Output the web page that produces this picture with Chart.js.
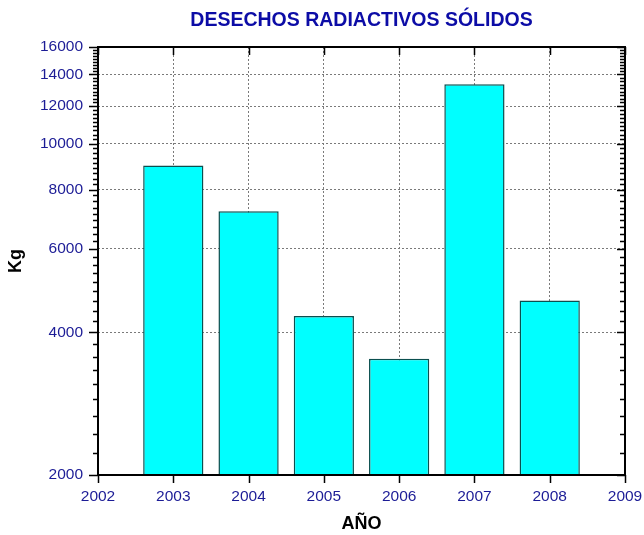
<!DOCTYPE html>
<html>
<head>
<meta charset="utf-8">
<script src="https://cdn.jsdelivr.net/npm/chart.js@4"></script>
<style>
  html, body { margin: 0; padding: 0; background: #fff; }
  #wrap { width: 644px; height: 535px; position: relative; }
</style>
</head>
<body>
<div id="wrap"><canvas id="c"></canvas></div>
<script>
const years = [2003, 2004, 2005, 2006, 2007, 2008];
const wasteKg = [9000, 7200, 4330, 3520, 13350, 4670];
const yTickValues = [2000, 4000, 6000, 8000, 10000, 12000, 14000, 16000];
const xTickValues = [2002, 2003, 2004, 2005, 2006, 2007, 2008, 2009];
const chartTitle = 'DESECHOS RADIACTIVOS SÓLIDOS';
const xTitle = 'AÑO';
const yTitle = 'Kg';

const FONT = "'Liberation Sans', Arial, sans-serif";
const TICK_COLOR = '#1c1c96';

const framePlugin = {
  id: 'frame',
  afterDraw(chart) {
    const {ctx, chartArea: a, scales: {x, y}} = chart;
    ctx.save();
    ctx.strokeStyle = '#000';
    ctx.lineWidth = 1.5;
    ctx.beginPath();
    xTickValues.forEach(v => {
      const px = Math.round(x.getPixelForValue(v)) + 0.5;
      ctx.moveTo(px, a.bottom); ctx.lineTo(px, a.bottom + 8);
      ctx.moveTo(px, a.top); ctx.lineTo(px, a.top + 8);
    });
    yTickValues.forEach(v => {
      const py = Math.round(y.getPixelForValue(v)) + 0.5;
      ctx.moveTo(a.left - 9, py); ctx.lineTo(a.left, py);
      ctx.moveTo(a.right, py); ctx.lineTo(a.right - 8, py);
    });
    for (let i = 0; i < yTickValues.length - 1; i++) {
      const lo = yTickValues[i], hi = yTickValues[i + 1];
      for (let k = 1; k < 9; k++) {
        const v = lo + (hi - lo) * k / 9;
        const py = Math.round(y.getPixelForValue(v)) + 0.5;
        ctx.moveTo(a.left - 5, py); ctx.lineTo(a.left, py);
        ctx.moveTo(a.right, py); ctx.lineTo(a.right - 5, py);
      }
    }
    ctx.stroke();
    ctx.lineWidth = 2;
    ctx.strokeRect(a.left, a.top, a.right - a.left, a.bottom - a.top);
    ctx.restore();
  }
};

new Chart(document.getElementById('c'), {
  type: 'bar',
  data: {
    datasets: [{
      data: years.map((yr, i) => ({x: yr, y: wasteKg[i]})),
      backgroundColor: '#00ffff',
      borderColor: '#0b4f4f',
      borderWidth: 1.5,
      categoryPercentage: 1,
      barPercentage: 0.8
    }]
  },
  plugins: [framePlugin],
  options: {
    responsive: true,
    maintainAspectRatio: false,
    animation: false,
    layout: { padding: { left: 0, right: 19, top: 0, bottom: 0 } },
    plugins: {
      legend: { display: false },
      tooltip: { enabled: false },
      title: {
        display: true,
        fullSize: false,
        text: chartTitle,
        color: '#0c0ca6',
        font: { family: FONT, size: 19.5, weight: 'bold', lineHeight: 1.2 },
        padding: { top: 9, bottom: 14.6 }
      }
    },
    scales: {
      x: {
        type: 'linear',
        offset: false,
        min: 2002,
        max: 2009,
        afterBuildTicks: s => { s.ticks = xTickValues.map(v => ({value: v})); },
        afterFit: s => { s.height = 60; s.paddingLeft = 0; s.paddingRight = 0; },
        grid: {
          offset: false,
          drawTicks: false,
          color: c => (c.tick && c.tick.value > 2002 && c.tick.value < 2009) ? '#7a7a7a' : 'rgba(0,0,0,0)',
          lineWidth: 1
        },
        border: { display: false, dash: [2, 2] },
        ticks: {
          color: TICK_COLOR,
          font: { family: FONT, size: 15.5 },
          padding: 12,
          maxRotation: 0,
          autoSkip: false,
          callback: v => String(v)
        },
        title: {
          display: true,
          text: xTitle,
          color: '#000',
          font: { family: FONT, size: 18, weight: 'bold', lineHeight: 1.2 },
          padding: { top: 0, bottom: 0 }
        }
      },
      y: {
        type: 'logarithmic',
        min: 2000,
        max: 16000,
        beginAtZero: false,
        afterBuildTicks: s => { s.ticks = yTickValues.map(v => ({value: v})); },
        afterFit: s => { s.width = 98; s.paddingTop = 0; s.paddingBottom = 0; },
        grid: {
          drawTicks: false,
          color: c => (c.tick && c.tick.value > 2000 && c.tick.value < 16000) ? '#7a7a7a' : 'rgba(0,0,0,0)',
          lineWidth: 1
        },
        border: { display: false, dash: [2, 2] },
        ticks: {
          color: TICK_COLOR,
          font: { family: FONT, size: 15.5 },
          padding: 15,
          autoSkip: false,
          callback: v => String(v)
        },
        title: {
          display: true,
          text: yTitle,
          color: '#000',
          font: { family: FONT, size: 18, weight: 'bold', lineHeight: 1.2 },
          padding: { top: 5, bottom: 0 }
        }
      }
    }
  }
});
</script>
</body>
</html>
